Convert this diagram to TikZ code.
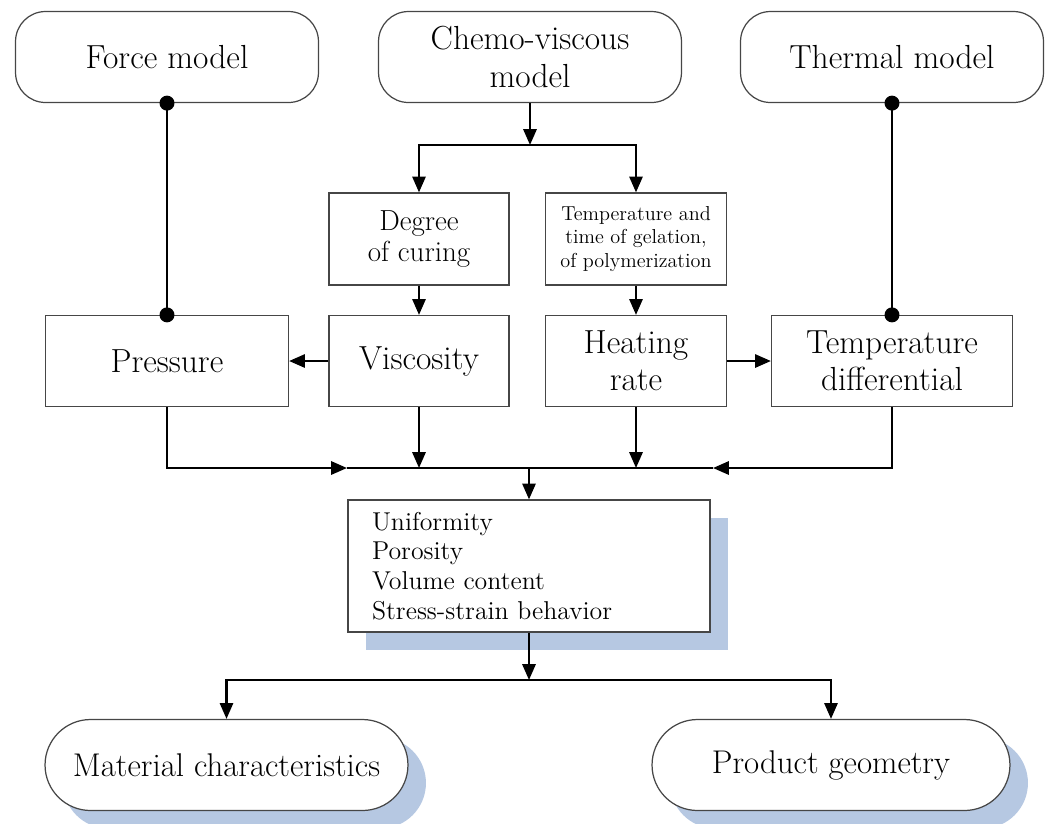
\documentclass[tikz,border=0pt]{standalone}
\usepackage{tikz}
\usetikzlibrary{arrows.meta}
\usetikzlibrary{shadows}

\definecolor{shadowblue}{RGB}{182,200,226}
\definecolor{boxline}{RGB}{70,70,70}

\tikzset{
  model/.style={draw=boxline, line width=0.7pt, rounded corners=0.6cm, minimum width=6.06cm, minimum height=1.82cm, align=center, font=\fontsize{19}{21.5}\selectfont},
  quantity/.style={draw=boxline, line width=0.7pt, minimum height=1.82cm, align=center, font=\fontsize{19}{21}\selectfont},
  property/.style={draw=boxline, line width=0.7pt, minimum width=3.6cm, minimum height=1.84cm, align=center},
  quality/.style={draw=boxline, line width=0.7pt, fill=white, minimum height=2.64cm, inner xsep=0.48cm, text width=6.28cm, align=left, font=\fontsize{14.7}{17}\selectfont, general shadow={fill=shadowblue, shadow xshift=0.36cm, shadow yshift=-0.36cm}},
  result/.style={draw=boxline, line width=0.7pt, fill=white, rounded corners=0.91cm, minimum height=1.82cm, font=\fontsize{18.7}{21}\selectfont, general shadow={fill=shadowblue, shadow xshift=0.36cm, shadow yshift=-0.36cm}},
  flow/.style={line width=1.3pt, -{Triangle[length=9pt,width=7.5pt]}},
  link/.style={line width=1.3pt, {Circle[length=8.5pt]}-{Circle[length=8.5pt]}, shorten <=-4.25pt, shorten >=-4.25pt},
}

\begin{document}
\begin{tikzpicture}[x=0.02cm, y=-0.02cm]
  \useasboundingbox (0,0) rectangle (1045,823);
  % models
  \node[model] (force) at (167,57) {Force model};
  \node[model] (chemo) at (530,57) {Chemo-viscous\\model};
  \node[model] (thermal) at (892,57) {Thermal model};
  % curing and gelation
  \node[property, font=\fontsize{16.5}{18}\selectfont] (curing) at (419,239) {Degree\\of curing};
  \node[property, minimum width=3.62cm, font=\fontsize{11.5}{13.6}\selectfont] (gelation) at (636,239) {Temperature and\\time of gelation,\\of polymerization};
  % process quantities
  \node[quantity, minimum width=4.86cm] (pressure) at (167,361) {Pressure};
  \node[quantity, minimum width=3.6cm] (viscosity) at (419,361) {Viscosity};
  \node[quantity, minimum width=3.62cm] (heating) at (636,361) {Heating\\rate};
  \node[quantity, minimum width=4.82cm] (tempdiff) at (892,361) {Temperature\\differential};
  % part quality
  \node[quality] (quality) at (529,566) {Uniformity\\Porosity\\Volume content\\Stress-strain behavior};
  % results
  \node[result, minimum width=7.26cm] (material) at (226.5,765) {Material characteristics};
  \node[result, minimum width=7.16cm] (geometry) at (831,765) {Product geometry};

  % model links
  \draw[link] (force.south) -- (pressure.north);
  \draw[link] (thermal.south) -- (tempdiff.north);
  % chemo-viscous branch
  \coordinate (split) at (530,145);
  \draw[flow] (chemo.south) -- (split);
  \draw[flow] (split) -| (curing.north);
  \draw[flow] (split) -| (gelation.north);
  \draw[flow] (curing) -- (viscosity);
  \draw[flow] (gelation) -- (heating);
  \draw[flow] (viscosity) -- (pressure);
  \draw[flow] (heating) -- (tempdiff);
  % collecting line
  \coordinate (collectL) at (347,468);
  \coordinate (collectR) at (713,468);
  \draw[flow] (pressure.south) |- (collectL);
  \draw[flow] (tempdiff.south) |- (collectR);
  \draw[line width=1.3pt] (collectL) -- (collectR);
  \draw[flow] (viscosity.south) -- (viscosity.south |- collectL);
  \draw[flow] (heating.south) -- (heating.south |- collectL);
  \draw[flow] (quality.north |- collectL) -- (quality.north);
  % results
  \coordinate (fork) at (529,680);
  \draw[flow] (quality.south) -- (fork);
  \draw[flow] (fork) -| (material.north);
  \draw[flow] (fork) -| (geometry.north);
\end{tikzpicture}
\end{document}
